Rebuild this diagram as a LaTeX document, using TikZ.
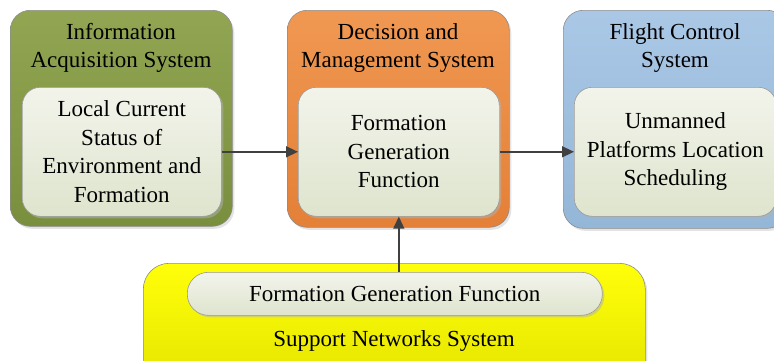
\documentclass[tikz,border=0pt]{standalone}
\usepackage{fontspec}
\setmainfont{Liberation Serif}
\usetikzlibrary{shadows,arrows.meta}
\definecolor{gTop}{RGB}{145,165,82}
\definecolor{gBot}{RGB}{122,143,62}
\definecolor{oTop}{RGB}{240,152,82}
\definecolor{oBot}{RGB}{228,128,55}
\definecolor{bTop}{RGB}{170,200,230}
\definecolor{bBot}{RGB}{148,182,215}
\definecolor{yTop}{RGB}{255,255,10}
\definecolor{yBot}{RGB}{228,228,0}
\definecolor{iTop}{RGB}{242,244,235}
\definecolor{iBot}{RGB}{222,228,205}
\definecolor{lineC}{RGB}{64,64,64}
\begin{document}
\begin{tikzpicture}[x=1pt,y=-1pt,
  outer/.style={draw=black!45, line width=0.6pt, rounded corners=20pt, anchor=north west,
    drop shadow={shadow xshift=2pt,shadow yshift=-2.5pt,fill=black!22}},
  inner/.style={draw=black!40, line width=0.6pt, rounded corners=18pt, anchor=north west,
    top color=iTop, bottom color=iBot, align=center,
    font=\fontsize{23}{28.5}\selectfont,
    drop shadow={shadow xshift=2pt,shadow yshift=-2pt,fill=black!30}},
  title/.style={align=center, font=\fontsize{23}{28}\selectfont},
  conn/.style={draw=lineC, line width=1.4pt, -{Triangle[length=12pt,width=11pt]}}
]
\clip (0,0) rectangle (774,360);
% outer containers
\node[outer, top color=gTop, bottom color=gBot, minimum width=222pt, minimum height=216pt] (gA) at (10,10) {};
\node[outer, top color=oTop, bottom color=oBot, minimum width=222pt, minimum height=217pt] (gB) at (287,10) {};
\node[outer, top color=bTop, bottom color=bBot, minimum width=224pt, minimum height=218pt] (gC) at (563,10) {};
\node[outer, rounded corners=26pt, top color=yTop, bottom color=yBot, minimum width=502pt, minimum height=125pt] (gD) at (143,263) {};
% titles
\node[title] (tA) at (121,48) {Information\\Acquisition System};
\node[title] (tB) at (398,48) {Decision and\\Management System};
\node[title] (tC) at (675,48) {Flight Control\\System};
\node[title] (tD) at (394,341) {Support Networks System};
% inner boxes
\node[inner, minimum width=199pt, minimum height=129pt] (iA) at (22,87) {Local Current\\Status of\\Environment and\\Formation};
\node[inner, minimum width=201pt, minimum height=129pt] (iB) at (298,87) {Formation\\Generation\\Function};
\node[inner, minimum width=202pt, minimum height=129pt] (iC) at (574,87) {Unmanned\\Platforms Location\\Scheduling};
\node[inner, rounded corners=21pt, minimum width=415pt, minimum height=43pt] (iD) at (187,272) {Formation Generation Function};
% connectors
\draw[conn] (iA.east) -- (iB.west);
\draw[conn] (iB.east) -- (iC.west);
\draw[conn] (iB.south |- iD.north) -- (iB.south);
\end{tikzpicture}
\end{document}
